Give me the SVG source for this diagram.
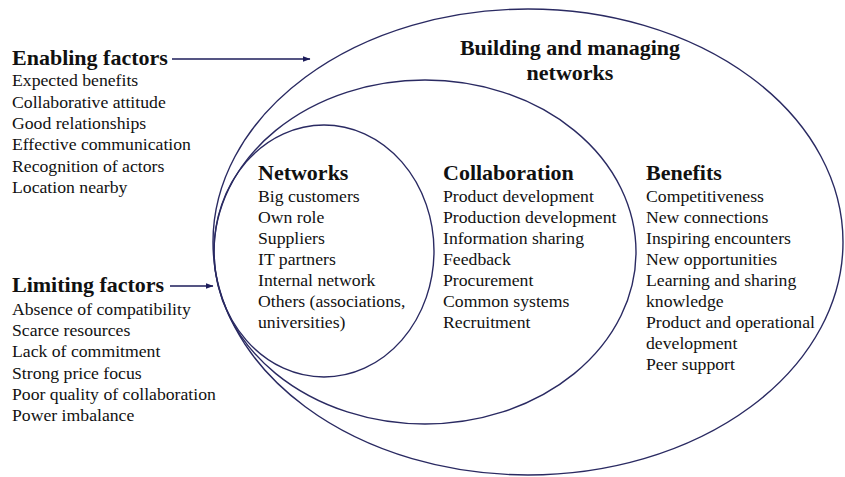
<svg xmlns="http://www.w3.org/2000/svg" width="845" height="477" viewBox="0 0 845 477">
  <style>
    .ring { fill: none; stroke: #2a2a62; stroke-width: 1.4; }
    .link { fill: none; stroke: #1c1c5a; stroke-width: 1.4; }
    text { font-family: "Liberation Serif", "Times New Roman", serif; fill: #111; }
    .head { font-size: 22px; font-weight: bold; }
    .item { font-size: 17.7px; }
  </style>
  <defs>
    <marker id="arrow" markerWidth="8" markerHeight="6" refX="7.5" refY="3" orient="auto" markerUnits="userSpaceOnUse">
      <path d="M0,0 L8,3 L0,6 Z" fill="#1c1c5a"/>
    </marker>
  </defs>
  <rect width="845" height="477" fill="#fff"/>

  <!-- nested ellipses -->
  <g id="outer-ring">
    <ellipse class="ring" cx="528" cy="242" rx="315" ry="233"/>
    <text class="head" x="570" y="55" text-anchor="middle">Building and managing</text>
    <text class="head" x="570" y="80" text-anchor="middle">networks</text>
  </g>
  <g id="collaboration-ring">
    <ellipse class="ring" cx="425" cy="252" rx="211" ry="172"/>
  </g>
  <g id="networks-ring">
    <ellipse class="ring" cx="324" cy="251" rx="110" ry="126"/>
  </g>

  <!-- connectors -->
  <g id="connectors">
    <line class="link" x1="172" y1="59" x2="310" y2="59" marker-end="url(#arrow)"/>
    <line class="link" x1="170" y1="286" x2="213" y2="286" marker-end="url(#arrow)"/>
  </g>

  <g id="enabling-factors">
    <text class="head" x="12" y="65">Enabling factors</text>
    <text class="item" x="12" y="86">Expected benefits</text>
    <text class="item" x="12" y="107.5">Collaborative attitude</text>
    <text class="item" x="12" y="129">Good relationships</text>
    <text class="item" x="12" y="150">Effective communication</text>
    <text class="item" x="12" y="171.5">Recognition of actors</text>
    <text class="item" x="12" y="193">Location nearby</text>
  </g>

  <g id="limiting-factors">
    <text class="head" x="12" y="292">Limiting factors</text>
    <text class="item" x="12" y="314.5">Absence of compatibility</text>
    <text class="item" x="12" y="336">Scarce resources</text>
    <text class="item" x="12" y="357">Lack of commitment</text>
    <text class="item" x="12" y="378.5">Strong price focus</text>
    <text class="item" x="12" y="399.5">Poor quality of collaboration</text>
    <text class="item" x="12" y="421">Power imbalance</text>
  </g>

  <g id="networks">
    <text class="head" x="258" y="180">Networks</text>
    <text class="item" x="258" y="202">Big customers</text>
    <text class="item" x="258" y="223">Own role</text>
    <text class="item" x="258" y="243.5">Suppliers</text>
    <text class="item" x="258" y="264.5">IT partners</text>
    <text class="item" x="258" y="285.5">Internal network</text>
    <text class="item" x="258" y="306.5">Others (associations,</text>
    <text class="item" x="258" y="327.5">universities)</text>
  </g>

  <g id="collaboration">
    <text class="head" x="443" y="180">Collaboration</text>
    <text class="item" x="443" y="202">Product development</text>
    <text class="item" x="443" y="223">Production development</text>
    <text class="item" x="443" y="243.5">Information sharing</text>
    <text class="item" x="443" y="264.5">Feedback</text>
    <text class="item" x="443" y="285.5">Procurement</text>
    <text class="item" x="443" y="306.5">Common systems</text>
    <text class="item" x="443" y="327.5">Recruitment</text>
  </g>

  <g id="benefits">
    <text class="head" x="646" y="180">Benefits</text>
    <text class="item" x="646" y="202">Competitiveness</text>
    <text class="item" x="646" y="223">New connections</text>
    <text class="item" x="646" y="243.5">Inspiring encounters</text>
    <text class="item" x="646" y="264.5">New opportunities</text>
    <text class="item" x="646" y="285.5">Learning and sharing</text>
    <text class="item" x="646" y="306.5">knowledge</text>
    <text class="item" x="646" y="327.5">Product and operational</text>
    <text class="item" x="646" y="349">development</text>
    <text class="item" x="646" y="370">Peer support</text>
  </g>
</svg>
